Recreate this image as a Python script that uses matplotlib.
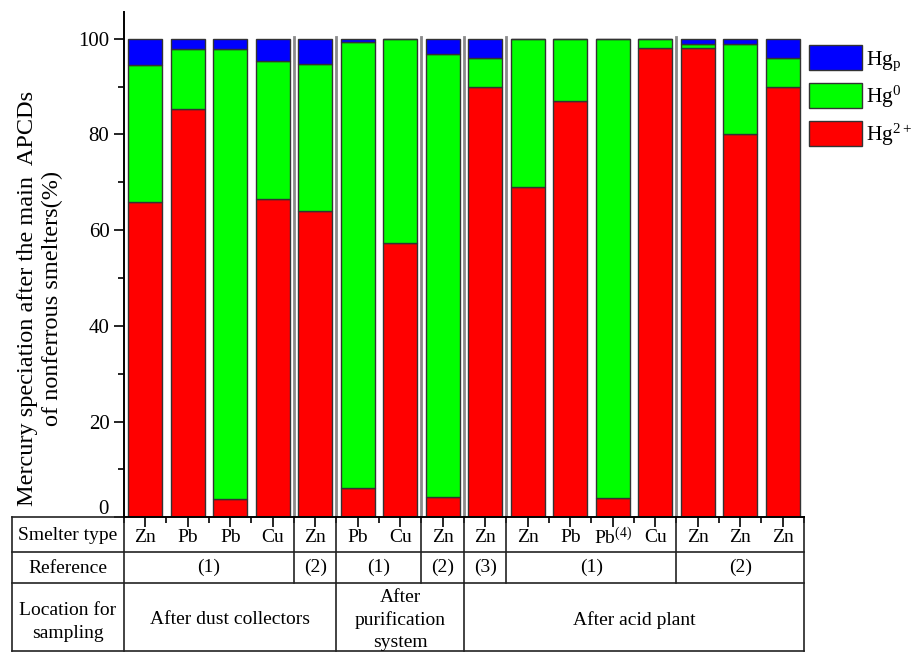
import matplotlib
matplotlib.use("Agg")
import matplotlib.pyplot as plt
import matplotlib.transforms as mtransforms
from matplotlib.patches import Patch
from matplotlib.ticker import MultipleLocator, FuncFormatter

plt.rcParams["font.family"] = ["Liberation Serif", "DejaVu Serif"]
plt.rcParams["mathtext.fontset"] = "custom"
plt.rcParams["mathtext.rm"] = "Liberation Serif"
plt.rcParams["mathtext.it"] = "Liberation Serif:italic"

# Data (percent)
smelters = ["Zn", "Pb", "Pb", "Cu", "Zn", "Pb", "Cu", "Zn", "Zn",
            "Zn", "Pb", "Pb$^{(4)}$", "Cu", "Zn", "Zn", "Zn"]
hg2 = [65.9, 85.3, 3.8, 66.5, 64.0, 6.1, 57.3, 4.2, 89.9,
       69.0, 87.0, 4.0, 98.1, 98.1, 80.0, 89.9]
hg0 = [28.7, 12.5, 94.0, 28.8, 30.8, 93.2, 42.7, 92.7, 6.0,
       31.0, 13.0, 96.0, 1.9, 0.8, 19.0, 6.0]
hgp = [5.4, 2.2, 2.2, 4.7, 5.2, 0.7, 0.0, 3.1, 4.1,
       0.0, 0.0, 0.0, 0.0, 1.1, 1.0, 4.1]

# table groups: (label, first bar, last bar)
references = [("(1)", 1, 4), ("(2)", 5, 5), ("(1)", 6, 7), ("(2)", 8, 8),
              ("(3)", 9, 9), ("(1)", 10, 13), ("(2)", 14, 16)]
locations = [("After dust collectors", 1, 5),
             ("After\npurification\nsystem", 6, 8),
             ("After acid plant", 9, 16)]
row_names = ["Smelter type", "Reference", "Location for\nsampling"]

W, H = 912, 652
fig = plt.figure(figsize=(W / 100, H / 100), dpi=100)
ax = fig.add_axes([124 / W, 1 - 517.3 / H, 680 / W, 505.3 / H])

x = list(range(1, len(hg2) + 1))
bottom2 = [a + b for a, b in zip(hg2, hg0)]
edge = dict(edgecolor="#333333", linewidth=1.0, width=0.8)
ax.bar(x, hg2, color="#ff0000", **edge)
ax.bar(x, hg0, bottom=hg2, color="#00ff00", **edge)
ax.bar(x, hgp, bottom=bottom2, color="#0000ff", **edge)

# group separators inside plot
ref_bounds = [r[1] - 0.5 for r in references[1:]]
for b in ref_bounds:
    ax.plot([b, b], [0, 100.3], color="#8a8a8a", lw=2.0, zorder=0.5)

ax.set_xlim(0.5, 16.5)
ax.set_ylim(0, 105.6)
for s in ["top", "right"]:
    ax.spines[s].set_visible(False)
ax.spines["left"].set_linewidth(1.4)
ax.spines["bottom"].set_linewidth(1.4)
ax.yaxis.set_major_locator(MultipleLocator(20))
ax.yaxis.set_minor_locator(MultipleLocator(10))
# the "0" label is drawn separately, slightly lifted above the table border
ax.yaxis.set_major_formatter(FuncFormatter(lambda v, p: "" if v == 0 else f"{v:.0f}"))
ax.set_xticks(x)
ax.set_xticks([i + 0.5 for i in range(0, 17)], minor=True)
ax.set_xticklabels([])
ax.tick_params(axis="both", which="major", direction="out", length=7, width=1.2, labelsize=15)
ax.tick_params(axis="both", which="minor", direction="out", length=4.5, width=1.2)
fig.text(108.5 / W, 1 - 510 / H, "0", ha="right", va="center", fontsize=15)

fig.text(40 / W, 1 - 298 / H,
         "Mercury speciation after the main  APCDs\nof nonferrous smelters(%)",
         rotation=90, ha="center", va="center", multialignment="center",
         fontsize=17.5, linespacing=1.2)

# legend
handles = [Patch(facecolor="#0000ff", edgecolor="#333333", label="Hg$_{\\rm p}$"),
           Patch(facecolor="#00ff00", edgecolor="#333333", label="Hg$^{0}$"),
           Patch(facecolor="#ff0000", edgecolor="#333333", label="Hg$^{2+}$")]
fig.legend(handles=handles, loc="upper left", bbox_to_anchor=(809 / W, 1 - 45 / H),
           frameon=False, fontsize=15.5, handlelength=2.45, handleheight=1.4,
           handletextpad=0.2, labelspacing=0.5, borderpad=0, borderaxespad=0)

# table beneath the axis
blend = mtransforms.blended_transform_factory(ax.transData, fig.transFigure)
fy = lambda py: 1 - py / H
fx = lambda px: 0.5 + (px - 124) / 42.5
line_kw = dict(color="#222222", lw=1.2, clip_on=False, transform=blend)
row_y = [517.3, 552, 583, 651]
for yy in row_y[1:]:
    ax.plot([fx(12), 16.5], [fy(yy), fy(yy)], **line_kw)
ax.plot([fx(12), 0.5], [fy(row_y[0]), fy(row_y[0])], **line_kw)
for xx in [fx(12), 0.5, 16.5]:
    ax.plot([xx, xx], [fy(row_y[0]), fy(row_y[-1])], **line_kw)
for b in ref_bounds:
    ax.plot([b, b], [fy(row_y[0]), fy(row_y[2])], **line_kw)
for _, first, _ in locations[1:]:
    ax.plot([first - 0.5] * 2, [fy(row_y[2]), fy(row_y[3])], **line_kw)

txt_kw = dict(ha="center", va="center", fontsize=14, transform=blend)
centers = [(row_y[i] + row_y[i + 1]) / 2 for i in range(3)]
for name, cy, dy in zip(row_names, centers, [1, 1, 5]):
    ax.text(fx(68), fy(cy + dy), name, linespacing=1.4, **txt_kw)
for xi, s in zip(x, smelters):
    ax.text(xi, fy(centers[0] + 3), s, **txt_kw)
for lab, a, b in references:
    ax.text((a + b) / 2, fy(centers[1]), lab, **txt_kw)
for lab, a, b in locations:
    ax.text((a + b) / 2, fy(centers[2] + 3), lab, linespacing=1.38, **txt_kw)

fig.savefig("out.png", dpi=100)
